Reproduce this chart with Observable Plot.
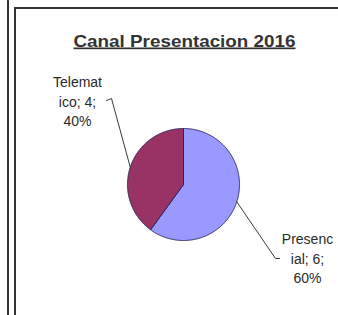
<!DOCTYPE html>
<html><head><meta charset="utf-8">
<script src="https://cdn.jsdelivr.net/npm/d3@7"></script>
<script src="https://cdn.jsdelivr.net/npm/@observablehq/plot@0.6"></script>
<style>
html,body{margin:0;padding:0;background:#fff;}
#wrap{position:relative;width:338px;height:315px;overflow:hidden;background:#fff;}
.ln{position:absolute;background:#333;}
#wrap svg{position:absolute;left:0;top:0;}
</style>
</head><body>
<div id="wrap">
  <div class="ln" style="left:7px;top:0;width:2px;height:315px;"></div>
  <div class="ln" style="left:14px;top:7px;width:2px;height:308px;"></div>
  <div class="ln" style="left:14px;top:7px;width:324px;height:2px;"></div>
</div>
<script>
// ---- data ----
const title = "Canal Presentacion 2016";
const categories = ["Presencial", "Telematico"];
const values = [6, 4];
const labelTexts = ["Presenc\nial; 6;\n60%", "Telemat\nico; 4;\n40%"];
const colors = ["#9999ff", "#993366"];

// ---- layout ----
const W = 338, H = 315;
const cx = 183, cy = 184, R = 56;
// label block centres and leader ends, relative to the pie centre (px)
const labelPos = {Presencial: [124, 73], Telematico: [-106, -84]};
const leaderEnd = {Presencial: [[92, 74], [96, 74]], Telematico: [[-72, -86], [-77, -84]]};

const arcs = d3.pie().sort(null).value(d => d)(values);
const polar = (a, r) => ({x: r * Math.sin(a), y: -r * Math.cos(a)});

const slices = arcs.map((a, i) => {
  const pts = [{x: 0, y: 0}];
  const n = Math.max(2, Math.ceil((a.endAngle - a.startAngle) / (Math.PI / 360)));
  for (let k = 0; k <= n; k++) pts.push(polar(a.startAngle + (a.endAngle - a.startAngle) * k / n, R));
  pts.push({x: 0, y: 0});
  return {cat: categories[i], pts};
});

const leaders = arcs.map((a, i) => {
  const mid = (a.startAngle + a.endAngle) / 2;
  const s = polar(mid, R);
  const e = leaderEnd[categories[i]];
  return [s, {x: e[0][0], y: e[0][1]}, {x: e[1][0], y: e[1][1]}];
});

const labels = categories.map((c, i) => ({x: labelPos[c][0], y: labelPos[c][1], text: labelTexts[i]}));

const marks = [];
slices.forEach((s, i) => {
  marks.push(Plot.line(s.pts, {x: "x", y: "y", fill: colors[i], stroke: "#262659", strokeWidth: 1, curve: "linear"}));
});
leaders.forEach(l => marks.push(Plot.line(l, {x: "x", y: "y", stroke: "#3a3a3a", strokeWidth: 1})));
marks.push(Plot.text(labels, {x: "x", y: "y", text: "text", fontSize: 14, lineHeight: 1.4,
  fontFamily: "Liberation Sans, Arial, sans-serif", fill: "#2a2a2a", textAnchor: "middle"}));
marks.push(Plot.text([title], {x: () => 1, frameAnchor: "top", lineAnchor: "bottom", dy: 46, text: d => d,
  fontSize: 17, fontWeight: "bold", fontFamily: "Liberation Sans, Arial, sans-serif",
  fill: "#333", textAnchor: "middle"}));

const chart = Plot.plot({
  width: W, height: H,
  margin: 0,
  x: {domain: [-cx, W - cx], range: [0, W], axis: null},
  y: {domain: [-cy, H - cy], range: [0, H], axis: null},
  style: {background: "transparent", overflow: "visible"},
  marks
});
document.getElementById("wrap").appendChild(chart);
d3.select(chart).selectAll("text").filter(function() { return this.textContent === title; })
  .attr("textLength", 222).attr("lengthAdjust", "spacingAndGlyphs")
  .style("text-decoration", "underline");
</script>
</body></html>
